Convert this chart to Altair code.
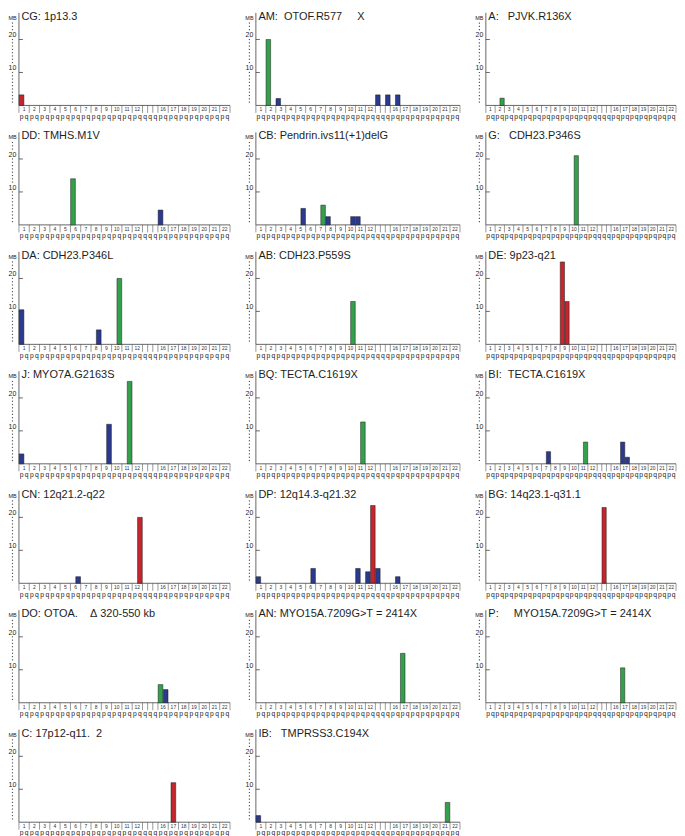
import altair as alt
import pandas as pd

# ---------------- data ----------------
PANEL_TITLES = [
    "CG: 1p13.3", "AM:  OTOF.R577     X", "A:   PJVK.R136X",
    "DD: TMHS.M1V", "CB: Pendrin.ivs11(+1)delG", "G:   CDH23.P346S",
    "DA: CDH23.P346L", "AB: CDH23.P559S", "DE: 9p23-q21",
    "J: MYO7A.G2163S", "BQ: TECTA.C1619X", "BI:  TECTA.C1619X",
    "CN: 12q21.2-q22", "DP: 12q14.3-q21.32", "BG: 14q23.1-q31.1",
    "DO: OTOA.    \u0394 320-550 kb", "AN: MYO15A.7209G>T = 2414X", "P:     MYO15A.7209G>T = 2414X",
    "C: 17p12-q11.  2", "IB:   TMPRSS3.C194X",
]

# one entry per bar: panel index, chromosome, arm ("c" = centred on the chromosome), MB, colour kind
BAR_PANEL = [0, 1, 1, 1, 1, 1, 2, 3, 3, 4, 4, 4, 4, 4, 5, 6, 6, 6, 7, 8, 8,
             9, 9, 9, 10, 11, 11, 11, 11, 12, 12, 13, 13, 13, 13, 13, 13, 13,
             14, 15, 15, 16, 17, 18, 19, 19]
BAR_CHROM = [1, 2, 3, 13, 15, 16, 2, 6, 16, 5, 7, 8, 10, 11, 10, 1, 8, 10, 10, 9, 9,
             1, 9, 11, 11, 7, 11, 17, 17, 6, 12, 1, 6, 11, 12, 12, 13, 16,
             14, 16, 16, 17, 17, 17, 1, 21]
BAR_ARM = ["p", "p", "p", "q", "q", "q", "q", "p", "p", "q", "q", "p", "q", "p", "q", "p", "q", "q", "q", "p", "q",
           "p", "q", "q", "q", "q", "q", "p", "q", "q", "q", "p", "q", "p", "p", "q", "q", "q",
           "q", "p", "q", "p", "p", "c", "p", "q"]
BAR_MB = [3.2, 20, 2.1, 3.2, 3.2, 3.2, 2.2, 14, 4.5, 5, 6, 2.5, 2.5, 2.5, 21, 10.5, 4.4, 20, 13, 25, 13,
          3, 12, 25, 12.7, 3.7, 6.6, 6.6, 2, 2, 20, 2, 4.5, 4.5, 3.5, 23.6, 4.5, 2,
          23, 5.5, 4, 15, 10.6, 12, 2, 6]
BAR_KIND = ["r", "g", "b", "b", "b", "b", "g", "g", "b", "b", "g", "b", "b", "b", "g", "b", "b", "g", "g", "r", "r",
            "b", "b", "g", "g", "b", "g", "b", "b", "b", "r", "b", "b", "b", "b", "r", "b", "b",
            "r", "g", "b", "g", "g", "r", "b", "g"]

CHROMS = list(range(1, 23))
ACRO = [13, 14, 15]
Y_TICKS = [10, 20]

# ---------------- layout / style ----------------
COLORS = {"r": "#c4262e", "g": "#35a04c", "b": "#2c3a8e"}
COL_W = [223, 216, 202]
LEFT = 11            # px from panel edge to y axis line
H = 96               # plot height (top to baseline)
BELOW = 14           # px below baseline for chromosome boxes
YMAX = 29.0
PPMB = H / YMAX
YMIN = -BELOW / PPMB
FONT = "Liberation Sans"

# slot positions
slot = {}
bounds = []
pos = 0
for c in CHROMS:
    if c in ACRO:
        slot[(c, "q")] = pos
        slot[(c, "p")] = pos
        slot[(c, "c")] = pos
        bounds.append((c, pos, pos + 1))
        pos += 1
    else:
        slot[(c, "p")] = pos
        slot[(c, "q")] = pos + 1
        slot[(c, "c")] = pos + 0.5
        bounds.append((c, pos, pos + 2))
        pos += 2
NSLOT = pos

bars = pd.DataFrame({
    "panel": BAR_PANEL, "chrom": BAR_CHROM, "arm": BAR_ARM, "mb": BAR_MB, "kind": BAR_KIND,
})
bars["x0"] = [slot[(c, a)] + 0.04 for c, a in zip(bars.chrom, bars.arm)]
bars["x1"] = bars["x0"] + 0.92
bars["y0"] = 0.0
bars["col"] = bars["kind"].map(COLORS)


def px_y(p):
    return p / PPMB


def panel(i, col):
    W = COL_W[col]
    ppu = (W - LEFT) / NSLOT
    lo = -LEFT / ppu
    xs = alt.Scale(domain=[lo, NSLOT], nice=False, zero=False)
    ys = alt.Scale(domain=[YMIN, YMAX], nice=False, zero=False)

    def X(f):
        return alt.X(f, type="quantitative", scale=xs, axis=None)

    def Y(f):
        return alt.Y(f, type="quantitative", scale=ys, axis=None)

    lab_x = -6.5 / ppu
    layers = []

    # axis lines
    axis_df = pd.DataFrame({"x": [0, 0], "x2": [0, NSLOT],
                            "y": [0, 0], "y2": [YMAX - px_y(3), 0]})
    layers.append(alt.Chart(axis_df).mark_rule(color="#666", strokeWidth=1).encode(
        x=X("x"), x2="x2", y=Y("y"), y2="y2"))

    # major ticks
    tk = pd.DataFrame({"x": [0] * len(Y_TICKS), "x2": [4 / ppu] * len(Y_TICKS), "y": Y_TICKS})
    layers.append(alt.Chart(tk).mark_rule(color="#444", strokeWidth=0.8).encode(
        x=X("x"), x2="x2", y=Y("y")))
    tl = pd.DataFrame({"x": [lab_x] * len(Y_TICKS), "y": [v + 1.3 for v in Y_TICKS],
                       "t": [str(v) for v in Y_TICKS]})
    layers.append(alt.Chart(tl).mark_text(fontSize=7, font=FONT, color="#222",
                                          align="center", baseline="middle").encode(
        x=X("x"), y=Y("y"), text="t:N"))

    # minor dots
    dots = [v for v in range(1, 26) if v not in (11, 12, 21, 22)]
    dd = pd.DataFrame({"x": [lab_x] * len(dots), "y": dots})
    layers.append(alt.Chart(dd).mark_square(size=1.4, color="#555", opacity=1).encode(
        x=X("x"), y=Y("y")))

    # MB label
    mb = pd.DataFrame({"x": [lab_x], "y": [YMAX - px_y(8)], "t": ["MB"]})
    layers.append(alt.Chart(mb).mark_text(fontSize=5.5, font=FONT, color="#222",
                                          align="center", baseline="middle").encode(
        x=X("x"), y=Y("y"), text="t:N"))

    # title
    tt = pd.DataFrame({"x": [2.5 / ppu], "y": [YMAX - px_y(7)],
                       "t": [PANEL_TITLES[i].replace(" ", "\u00a0")]})
    layers.append(alt.Chart(tt).mark_text(fontSize=11, font=FONT, color="#1e1e1e",
                                          align="left", baseline="middle").encode(
        x=X("x"), y=Y("y"), text="t:N"))

    # bars
    b = bars[bars.panel == i]
    layers.append(alt.Chart(b).mark_bar(stroke="#1a1a1a", strokeWidth=0.5).encode(
        x=X("x0"), x2="x1", y=Y("y0"), y2="mb", color=alt.Color("col:N", scale=None)))

    # chromosome boxes
    edges = sorted(set([s for _, s, _ in bounds] + [e for _, _, e in bounds]))
    ed = pd.DataFrame({"x": edges, "y": [0] * len(edges), "y2": [-px_y(7.5)] * len(edges)})
    layers.append(alt.Chart(ed).mark_rule(color="#555", strokeWidth=0.6).encode(
        x=X("x"), y=Y("y"), y2="y2"))
    nums = [(c, (s + e) / 2) for c, s, e in bounds if c not in ACRO]
    nd = pd.DataFrame({"x": [m for _, m in nums], "y": [-px_y(4.0)] * len(nums),
                       "t": [str(c) for c, _ in nums]})
    layers.append(alt.Chart(nd).mark_text(fontSize=5, font=FONT, color="#333",
                                          align="center", baseline="middle").encode(
        x=X("x"), y=Y("y"), text="t:N"))
    pq_x, pq_t = [], []
    for c, s, e in bounds:
        if c in ACRO:
            pq_x.append(s + 0.5)
            pq_t.append("q")
        else:
            pq_x += [s + 0.5, s + 1.5]
            pq_t += ["p", "q"]
    pqd = pd.DataFrame({"x": pq_x, "y": [-px_y(11.3)] * len(pq_x), "t": pq_t})
    layers.append(alt.Chart(pqd).mark_text(fontSize=6.8, font=FONT, color="#222",
                                           align="center", baseline="middle").encode(
        x=X("x"), y=Y("y"), text="t:N"))

    return alt.layer(*layers).properties(width=W, height=H + BELOW)


rows = []
n = len(PANEL_TITLES)
for r in range(0, n, 3):
    cells = [panel(i, i - r) for i in range(r, min(r + 3, n))]
    rows.append(alt.hconcat(*cells, spacing=14))

chart = alt.vconcat(*rows, spacing=8).properties(
    padding={"left": 0, "top": 0, "right": 0, "bottom": 0}
).configure_view(stroke=None)

chart.save("out.html", embed_options={"renderer": "svg", "actions": False})
